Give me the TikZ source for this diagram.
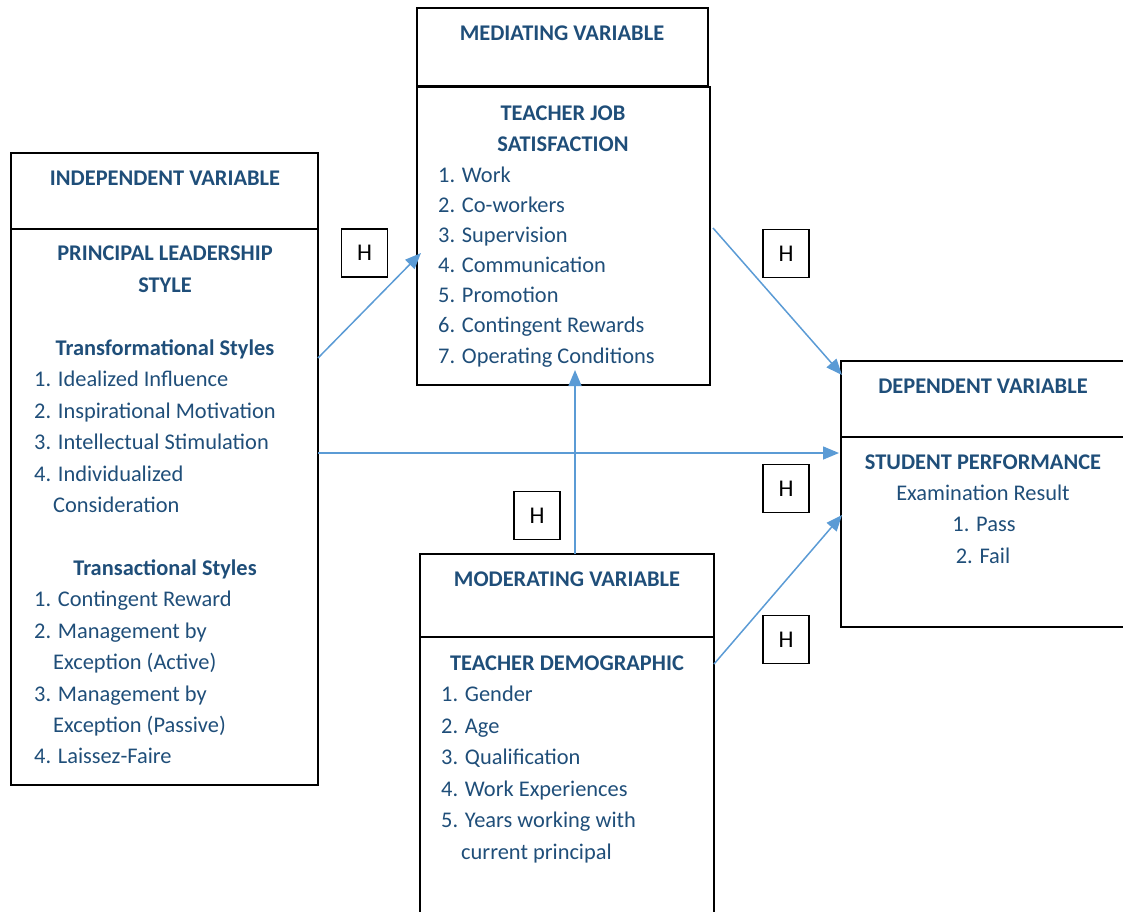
\documentclass[tikz,border=0pt]{standalone}
\usepackage{fontspec}
\setmainfont{Carlito}
\usetikzlibrary{arrows.meta}
\definecolor{txt}{HTML}{1F4E79}
\definecolor{arr}{HTML}{5B9BD5}
\begin{document}
\begin{tikzpicture}[x=1pt,y=-1pt,
 box/.style={draw=black,line width=1.3pt,anchor=north west,inner sep=0pt,outer sep=0pt},
 lbl/.style={text=txt,font=\fontsize{22.4}{26}\selectfont,inner sep=0pt,text height=16pt,text depth=2pt},
 ttl/.style={lbl,font=\fontsize{22.4}{26}\selectfont\bfseries},
 item/.style={lbl,anchor=west},
 hbox/.style={draw=black,line width=1.3pt,minimum width=46pt,minimum height=48pt,inner sep=0pt,font=\fontsize{24}{28}\selectfont},
 conn/.style={draw=arr,line width=1.5pt,-{Triangle[length=16pt,width=13pt]}}]
\useasboundingbox (0,0) rectangle (1123,911);
\clip (0,0) rectangle (1123,911);
% boxes
\node[box,minimum width=307pt,minimum height=76pt] (indH) at (11,153) {};
\node[box,minimum width=307pt,minimum height=556pt] (indB) at (11,229) {};
\node[box,minimum width=291pt,minimum height=78pt] (medH) at (417,8) {};
\node[box,minimum width=293pt,minimum height=298pt] (medB) at (417,87) {};
\node[box,minimum width=300pt,minimum height=76pt] (depH) at (841,361) {};
\node[box,minimum width=300pt,minimum height=190pt] (depB) at (841,437) {};
\node[box,minimum width=294pt,minimum height=83pt] (modH) at (420,554) {};
\node[box,minimum width=294pt,minimum height=320pt] (modB) at (420,637) {};
% H boxes
\node[hbox] (h1) at (364.5,253) {H};
\node[hbox] (h2) at (786,253.5) {H};
\node[hbox] (h3) at (537,515.5) {H};
\node[hbox] (h4) at (786,488.5) {H};
\node[hbox] (h5) at (786,639.5) {H};
% independent
\node[ttl] (iv) at (165,178.5) {INDEPENDENT VARIABLE};
\node[ttl] (pl1) at (165,253) {PRINCIPAL LEADERSHIP};
\node[ttl] (pl2) at (165,285) {STYLE};
\node[ttl] (tf) at (165,348) {Transformational Styles};
\node[item] (i1) at (34,379) {1. Idealized Influence};
\node[item] (i2) at (34,411) {2. Inspirational Motivation};
\node[item] (i3) at (34,442) {3. Intellectual Stimulation};
\node[item] (i4) at (34,474) {4. Individualized};
\node[item] (i4b) at (53,505) {Consideration};
\node[ttl] (ts) at (165,568) {Transactional Styles};
\node[item] (j1) at (34,599) {1. Contingent Reward};
\node[item] (j2) at (34,631) {2. Management by};
\node[item] (j2b) at (53,662) {Exception (Active)};
\node[item] (j3) at (34,694) {3. Management by};
\node[item] (j3b) at (53,725) {Exception (Passive)};
\node[item] (j4) at (34,756) {4. Laissez-Faire};
% mediating
\node[ttl] (mv) at (562,33) {MEDIATING VARIABLE};
\node[ttl] (tj1) at (563,113) {TEACHER JOB};
\node[ttl] (tj2) at (563,144) {SATISFACTION};
\node[item] (m1) at (438,175) {1. Work};
\node[item] (m2) at (438,205) {2. Co-workers};
\node[item] (m3) at (438,235) {3. Supervision};
\node[item] (m4) at (438,265) {4. Communication};
\node[item] (m5) at (438,295) {5. Promotion};
\node[item] (m6) at (438,325) {6. Contingent Rewards};
\node[item] (m7) at (438,356) {7. Operating Conditions};
% dependent
\node[ttl] (dv) at (983,386) {DEPENDENT VARIABLE};
\node[ttl] (sp) at (983,462) {STUDENT PERFORMANCE};
\node[lbl] (er) at (983,493) {Examination Result};
\node[lbl] (d1) at (984,524) {1. Pass};
\node[lbl] (d2) at (983,556) {2. Fail};
% moderating
\node[ttl] (modv) at (567,579) {MODERATING VARIABLE};
\node[ttl] (td) at (567,663) {TEACHER DEMOGRAPHIC};
\node[item] (o1) at (441,694) {1. Gender};
\node[item] (o2) at (441,726) {2. Age};
\node[item] (o3) at (441,757) {3. Qualification};
\node[item] (o4) at (441,789) {4. Work Experiences};
\node[item] (o5) at (441,820) {5. Years working with};
\node[item] (o5b) at (461,852) {current principal};
% connectors
\coordinate (a1s) at (318,358); \coordinate (a1e) at (421,253);
\coordinate (a2s) at (713,228); \coordinate (a2e) at (842,375);
\coordinate (a3s) at (318,453); \coordinate (a3e) at (839,453);
\coordinate (a4s) at (714,664); \coordinate (a4e) at (842,515);
\coordinate (a5s) at (575,554); \coordinate (a5e) at (575,370);
\draw[conn] (a1s) -- (a1e);
\draw[conn] (a2s) -- (a2e);
\draw[conn] (a3s) -- (a3e);
\draw[conn] (a4s) -- (a4e);
\draw[conn] (a5s) -- (a5e);
\end{tikzpicture}
\end{document}
